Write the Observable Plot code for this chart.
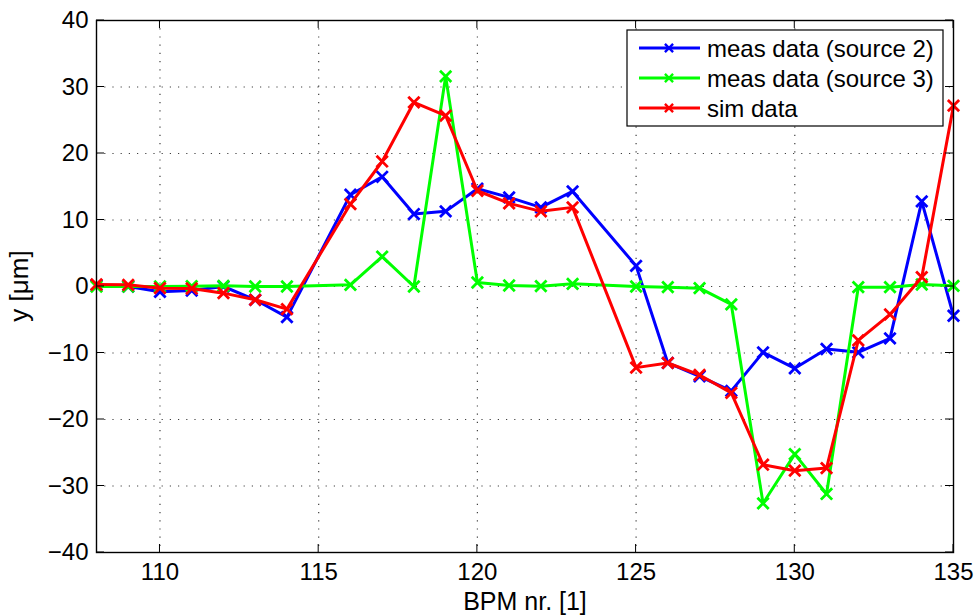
<!DOCTYPE html>
<html>
<head>
<meta charset="utf-8">
<script src="https://cdn.jsdelivr.net/npm/d3@7"></script>
<script src="https://cdn.jsdelivr.net/npm/@observablehq/plot@0.6"></script>
<style>
  html, body { margin: 0; padding: 0; background: #fff; }
  #chart { width: 977px; height: 616px; }
</style>
</head>
<body>
<div id="chart"></div>
<script>
// BPM numbers (115 and 124 have no readings)
const bpm = [108, 109, 110, 111, 112, 113, 114, 116, 117, 118, 119, 120, 121,
             122, 123, 125, 126, 127, 128, 129, 130, 131, 132, 133, 134, 135];

// vertical offsets in µm
const measSource2 = [0.2, 0.0, -0.8, -0.6, 0.0, -2.0, -4.6, 13.8, 16.5, 10.9, 11.3, 14.7, 13.4,
                     11.9, 14.3, 3.1, -11.5, -13.5, -15.7, -9.9, -12.3, -9.4, -9.9, -7.8, 12.8, -4.4];
const measSource3 = [0.0, 0.0, 0.0, 0.05, 0.1, 0.0, 0.0, 0.25, 4.5, 0.0, 31.6, 0.6, 0.15,
                     0.05, 0.4, 0.0, -0.1, -0.25, -2.7, -32.6, -25.2, -31.2, -0.1, -0.1, 0.3, 0.1];
const simData     = [0.3, 0.25, -0.25, -0.3, -1.0, -2.0, -3.4, 12.4, 18.8, 27.7, 25.7, 14.4, 12.5,
                     11.3, 11.9, -12.2, -11.5, -13.3, -16.0, -26.8, -27.7, -27.3, -8.1, -4.2, 1.4, 27.2];

const seriesNames  = ["meas data (source 2)", "meas data (source 3)", "sim data"];
const seriesColors = ["#0000ff", "#00ff00", "#ff0000"];

const xTicks = [110, 115, 120, 125, 130, 135];
const yTicks = [-40, -30, -20, -10, 0, 10, 20, 30, 40];
const xLabel = "BPM nr. [1]";
const yLabel = "y [μm]";

const seriesValues = [measSource2, measSource3, simData];
const rows = seriesValues.flatMap((vals, i) =>
  bpm.map((b, j) => ({bpm: b, y: vals[j], series: seriesNames[i]})));

const font = "'Liberation Sans', Arial, Helvetica, sans-serif";
const W = 977, H = 616;
const mL = 96, mR = 24, mT = 20, mB = 64;
const tickLen = 8;

const lineMarks = seriesNames.flatMap((name, i) => {
  const d = rows.filter(r => r.series === name);
  return [
    Plot.line(d, {x: "bpm", y: "y", stroke: seriesColors[i], strokeWidth: 3, strokeLinejoin: "round"}),
    Plot.dot(d, {x: "bpm", y: "y", stroke: seriesColors[i], symbol: "times", r: 5.2, strokeWidth: 2.8})
  ];
});

const chart = Plot.plot({
  width: W,
  height: H,
  marginLeft: mL,
  marginRight: mR,
  marginTop: mT,
  marginBottom: mB,
  style: {fontFamily: font, fontSize: "24px", background: "#fff", color: "#000"},
  x: {domain: [108, 135]},
  y: {domain: [-40, 40]},
  marks: [
    Plot.gridX(xTicks.slice(0, -1), {stroke: "#000", strokeOpacity: 0.75, strokeWidth: 1.2, strokeDasharray: "1.2,7"}),
    Plot.gridY(yTicks.slice(1, -1), {stroke: "#000", strokeOpacity: 0.75, strokeWidth: 1.2, strokeDasharray: "1.2,7"}),
    Plot.axisX(xTicks, {anchor: "bottom", tickSize: 0, tickPadding: 10, fontSize: 24, label: null}),
    Plot.axisY(yTicks, {anchor: "left", tickSize: 0, tickPadding: 8, fontSize: 24, label: null}),
    ...lineMarks,
    Plot.frame({stroke: "#000", strokeWidth: 1.4})
  ]
});

document.getElementById("chart").appendChild(chart);

const svg = d3.select(chart);
const sx = chart.scale("x"), sy = chart.scale("y");
const x0 = mL, x1 = W - mR, y0 = mT, y1 = H - mB;

// inward tick marks on all four sides
const ticks = svg.append("g").attr("stroke", "#000").attr("stroke-width", 1);
xTicks.forEach(v => {
  const px = sx.apply(v);
  ticks.append("line").attr("x1", px).attr("x2", px).attr("y1", y1).attr("y2", y1 - tickLen);
  ticks.append("line").attr("x1", px).attr("x2", px).attr("y1", y0).attr("y2", y0 + tickLen);
});
yTicks.forEach(v => {
  const py = sy.apply(v);
  ticks.append("line").attr("x1", x0).attr("x2", x0 + tickLen).attr("y1", py).attr("y2", py);
  ticks.append("line").attr("x1", x1).attr("x2", x1 - tickLen).attr("y1", py).attr("y2", py);
});

// axis titles
svg.append("text")
  .attr("x", 525)
  .attr("y", 610)
  .attr("text-anchor", "middle")
  .style("font-family", font)
  .style("font-size", "25px")
  .attr("fill", "#000")
  .text(xLabel);

svg.append("text")
  .attr("transform", `translate(28,${(y0 + y1) / 2}) rotate(-90)`)
  .attr("text-anchor", "middle")
  .style("font-family", font)
  .style("font-size", "26px")
  .attr("fill", "#000")
  .text(yLabel);

// legend box in the upper right of the axes
const lg = svg.append("g");
const lgX = 627, lgY = 30, lgW = 316, lgH = 96;
lg.append("rect")
  .attr("x", lgX).attr("y", lgY).attr("width", lgW).attr("height", lgH)
  .attr("fill", "#fff").attr("stroke", "#000").attr("stroke-width", 1.2);

const symTimes = d3.symbol(d3.symbolTimes, 45)();
seriesNames.forEach((name, i) => {
  const cy = 48 + i * 30;
  lg.append("line")
    .attr("x1", 639).attr("x2", 700).attr("y1", cy).attr("y2", cy)
    .attr("stroke", seriesColors[i]).attr("stroke-width", 3);
  lg.append("path")
    .attr("d", symTimes)
    .attr("transform", `translate(669,${cy})`)
    .attr("fill", "none").attr("stroke", seriesColors[i]).attr("stroke-width", 2.4);
  lg.append("text")
    .attr("x", 707).attr("y", cy)
    .attr("dy", "0.36em")
    .attr("text-anchor", "start")
    .style("font-family", font)
    .style("font-size", "24px")
    .attr("fill", "#000")
    .text(name);
});
</script>
</body>
</html>
